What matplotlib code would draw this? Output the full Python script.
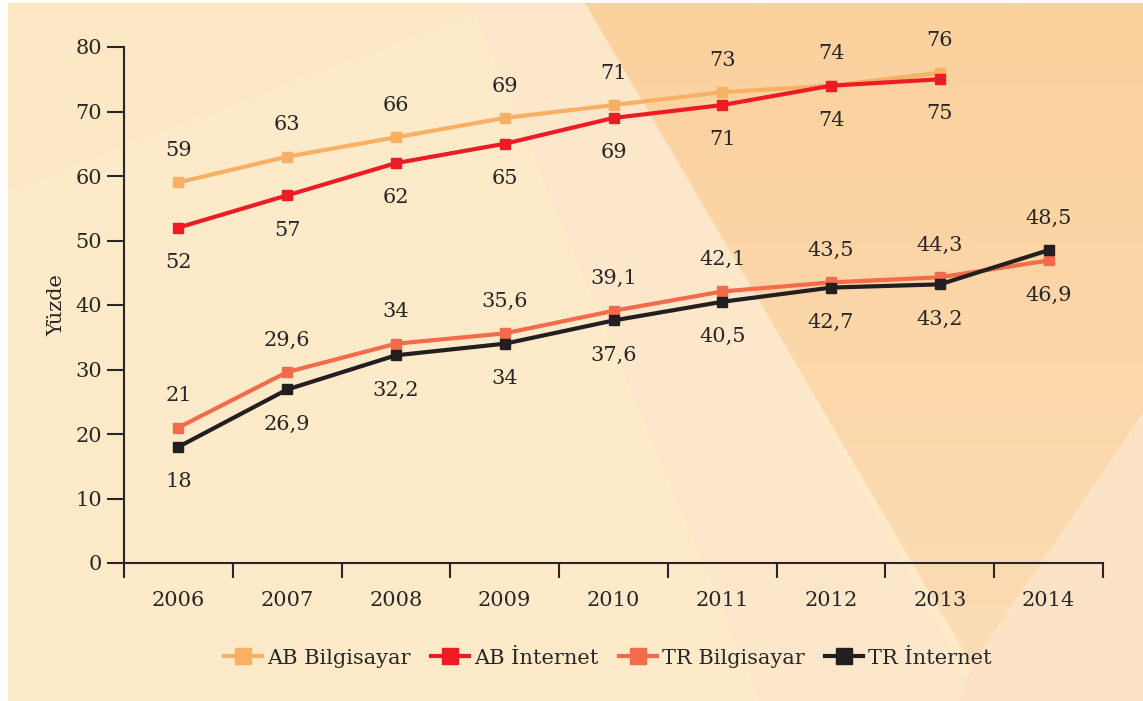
import matplotlib
matplotlib.use('Agg')
import matplotlib.pyplot as plt
from matplotlib.patches import Polygon, Rectangle
from matplotlib.lines import Line2D
import numpy as np

# data
years = ['2006', '2007', '2008', '2009', '2010', '2011', '2012', '2013', '2014']
ab_bilgisayar = [59, 63, 66, 69, 71, 73, 74, 76]
ab_internet = [52, 57, 62, 65, 69, 71, 74, 75]
tr_bilgisayar = [21, 29.6, 34, 35.6, 39.1, 42.1, 43.5, 44.3, 46.9]
tr_internet = [18, 26.9, 32.2, 34, 37.6, 40.5, 42.7, 43.2, 48.5]
series_names = ['AB Bilgisayar', 'AB İnternet', 'TR Bilgisayar', 'TR İnternet']
colors = ['#F8B064', '#ED1C24', '#F26B4B', '#231F20']
y_ticks = [0, 10, 20, 30, 40, 50, 60, 70, 80]

plt.rcParams['font.family'] = ['DejaVu Serif']
FS = 15
INK = '#2A2526'

W, H = 1143, 701
fig = plt.figure(figsize=(W / 100, H / 100), dpi=100)
fig.patch.set_facecolor('white')

# ---- background decoration (pixel coords) ----
bg = fig.add_axes([0, 0, 1, 1], zorder=-10)
bg.set_xlim(0, W)
bg.set_ylim(H, 0)
bg.axis('off')
bg.add_patch(Rectangle((8, 3), W - 8, H - 3, color='#FDEAC9', lw=0))
bg.add_patch(Polygon([(8, 3), (500, 3), (8, 190)], closed=True, color='#FCE5C0', lw=0, alpha=0.35))
bg.add_patch(Polygon([(470, 3), (590, 3), (980, 701), (760, 701)], closed=True,
                     color='#FDE7CB', lw=0))
tri = Polygon([(585, 3), (W, 3), (W, 413), (972, 665)], closed=True, lw=0, facecolor='none')
bg.add_patch(tri)
grad = np.linspace(0, 1, 256).reshape(-1, 1) * np.ones((1, 2))
cmap = matplotlib.colors.LinearSegmentedColormap.from_list('o', ['#FBD19D', '#FCDCB5'])
im = bg.imshow(grad, extent=(585, W, 665, 3), cmap=cmap, aspect='auto', zorder=1)
im.set_clip_path(tri)
bg.add_patch(Polygon([(W, 413), (972, 665), (960, H), (W, H)], closed=True,
                     color='#FDE3C6', lw=0, zorder=2))

# ---- main chart ----
ax = fig.add_axes([124 / W, 1 - 563 / H, (1103 - 124) / W, (563 - 47) / H])
ax.set_facecolor('none')
x_all = np.arange(len(years))

def fmt(v):
    return ('%g' % v).replace('.', ',')

pairs = [(ab_bilgisayar, ab_internet), (tr_bilgisayar, tr_internet)]
data = [ab_bilgisayar, ab_internet, tr_bilgisayar, tr_internet]
for vals, name, c in zip(data, series_names, colors):
    xs = x_all[:len(vals)]
    ax.plot(xs, vals, color=c, lw=3, marker='s', ms=7.5, mec=c, mfc=c,
            label=name, solid_joinstyle='miter')

# higher of each pair gets its label above, the lower one below
for a, b in pairs:
    for i in range(len(a)):
        hi_a = a[i] >= b[i]
        for v, up in ((a[i], hi_a), (b[i], not hi_a)):
            ax.annotate(fmt(v), (x_all[i], v), xytext=(0, 23 if up else -25),
                        textcoords='offset points', ha='center', va='center',
                        fontsize=FS, color=INK)

ax.set_xlim(-0.5, len(years) - 0.5)
ax.set_ylim(0, 80)
ax.set_yticks(y_ticks)
ax.set_xticks(np.arange(len(years) + 1) - 0.5)
ax.set_xticklabels([])
ax.set_xticks(x_all, minor=True)
ax.set_xticklabels(years, minor=True)
ax.tick_params(axis='x', which='major', length=11, width=1.5, color=INK, direction='out')
ax.tick_params(axis='x', which='minor', length=0, pad=20, labelsize=FS, labelcolor=INK)
ax.tick_params(axis='y', length=12, width=1.5, color=INK, pad=4, labelsize=FS, labelcolor=INK)
for s in ['top', 'right']:
    ax.spines[s].set_visible(False)
for s in ['left', 'bottom']:
    ax.spines[s].set_color(INK)
    ax.spines[s].set_linewidth(1.5)
ax.spines['left'].set_bounds(0, 80)

fig.text(57 / W, 1 - 305 / H, 'Yüzde', rotation=90, ha='center', va='center',
         fontsize=FS, color=INK)

handles = [Line2D([], [], color=c, lw=3, marker='s', ms=12, mec=c, mfc=c) for c in colors]
fig.legend(handles, series_names, loc='center', bbox_to_anchor=(608 / W, 1 - 658 / H),
           ncol=4, frameon=False, fontsize=FS, handlelength=1.8, handletextpad=0.25,
           columnspacing=1.0, labelcolor=INK)

fig.savefig('out.png', dpi=100, facecolor=fig.get_facecolor())
